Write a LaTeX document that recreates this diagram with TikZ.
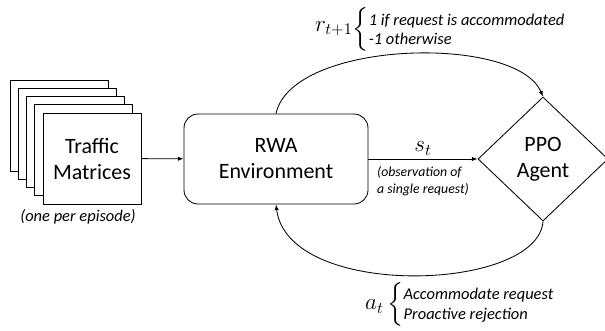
\RequirePackage{fix-cm}
\documentclass[tikz,border=0pt]{standalone}
\usepackage{amsmath}
\usepackage[no-math]{fontspec}
\setmainfont{Carlito}
\usetikzlibrary{shapes, arrows.meta}

\tikzset{
	page/.style={draw, fill=white, minimum width=2.45cm, minimum height=2.275cm, align=center, font=\fontsize{15.6}{18.5}\selectfont},
	env/.style={draw, rounded corners=0.35cm, minimum width=4.6cm, minimum height=2.25cm, align=center, font=\fontsize{15.6}{18.5}\selectfont},
	agent/.style={draw, diamond, inner sep=0pt, minimum width=3.25cm, minimum height=3.1cm, align=center, font=\fontsize{15.6}{18.5}\selectfont},
	note/.style={font=\itshape\fontsize{11.7}{14}\selectfont, align=center},
	obs/.style={font=\itshape\fontsize{9.8}{11.4}\selectfont, align=left},
	sym/.style={font=\fontsize{16.5}{19}\selectfont, inner sep=0.5pt}
}
\newcommand{\choices}[1]{\mbox{\itshape\fontsize{11.7}{13.8}\selectfont\begin{tabular}{@{}l@{}}#1\end{tabular}}}

\begin{document}
\begin{tikzpicture}[>={Latex[length=4pt, width=3pt]}, line width=0.6pt]
	\useasboundingbox (0, 0) rectangle (15.125, -8.25);
	
	\node[page] (P5) at (1.475, -3.138) {};
	\node[page] (P4) at (1.681, -3.344) {};
	\node[page] (P3) at (1.888, -3.550) {};
	\node[page] (P2) at (2.094, -3.756) {};
	\node[page] (TM) at (2.300, -3.963) {Traffic\\Matrices};
	\node[note] (TMnote) at (1.95, -5.425) {(one per episode)};
	
	\node[env] (RWA) at (6.9, -3.975) {RWA\\Environment};
	\node[agent] (PPO) at (13.575, -3.975) {PPO\\Agent};
	
	\draw[->] (TM) -- (RWA);
	\draw[->] (RWA) -- node[sym, above=2pt]{$s_t$} node[obs, below=2pt]{(observation of\\a single request)} (PPO);
	\draw[->] (RWA.north) .. controls (7.3, -1.0) and (12.9, -0.85) .. (PPO.north);
	\draw[->] (PPO.south) .. controls (13.45, -7.3) and (7.2, -7.5) .. (RWA.south);
	
	\node[sym, anchor=west] (reward) at (7.85, -0.74) {\raisebox{3pt}{$r_{t+1}$}$\left\{\choices{1 if request is accommodated\\-1 otherwise}\right.$};
	\node[sym, anchor=west] (action) at (9.1, -7.6) {$a_t\left\{\choices{Accommodate request\\Proactive rejection}\right.$};
\end{tikzpicture}
\end{document}
